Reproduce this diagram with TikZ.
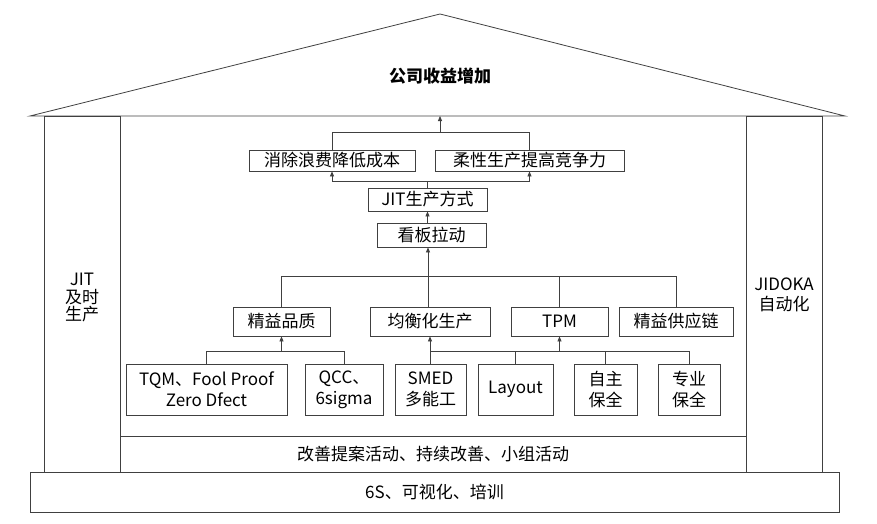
\documentclass[tikz,border=0pt]{standalone}
\usepackage{fontspec}
\setmainfont{Noto Sans CJK SC}
\usetikzlibrary{arrows.meta}
\begin{document}
\begin{tikzpicture}[x=1pt,y=-1pt,
  ln/.style={draw=black!75,line width=0.8pt},
  box/.style={ln,rectangle,inner sep=0pt,align=center,font=\fontsize{17}{21}\selectfont},
  arr/.style={ln,-{Triangle[length=5pt,width=4pt]}},
  lbl/.style={inner sep=0pt,align=center,font=\fontsize{17}{19}\selectfont}]
\useasboundingbox (0,0) rectangle (877,524);
% roof
\draw[ln] (30,116) -- (440,14) -- (845,116) -- cycle;
\node[lbl,font=\fontsize{17}{19}\selectfont\bfseries] (title) at (440,76) {公司收益增加};
\coordinate (top) at (440,116);
% pillars, bars
\node[box,minimum width=76pt,minimum height=356pt] (lp) at (82,294) {};
\node[lbl,font=\fontsize{17}{17.5}\selectfont] (lpt) at (82,298) {JIT\\及时\\生产};
\node[box,minimum width=76pt,minimum height=356pt] (rp) at (784,294) {};
\node[lbl,font=\fontsize{17}{20}\selectfont] (rpt) at (784,294.5) {JIDOKA\\自动化};
\node[box,minimum width=626pt,minimum height=36pt] (kz) at (433,454) {改善提案活动、持续改善、小组活动};
\node[box,minimum width=809pt,minimum height=40pt] (base) at (434.5,492) {6S、可视化、培训};
% goal boxes
\node[box,minimum width=166pt,minimum height=21pt] (x1) at (332,160.5) {消除浪费降低成本};
\node[box,minimum width=189pt,minimum height=21pt] (x2) at (529.5,160.5) {柔性生产提高竞争力};
\node[box,minimum width=119pt,minimum height=23pt] (jit) at (427.5,199.5) {JIT生产方式};
\node[box,minimum width=109pt,minimum height=24pt] (kb) at (431.5,235) {看板拉动};
% middle row
\node[box,minimum width=97pt,minimum height=29pt] (q) at (281.5,321.5) {精益品质};
\node[box,minimum width=120pt,minimum height=29pt] (b) at (430,321.5) {均衡化生产};
\node[box,minimum width=97pt,minimum height=29pt] (tpm) at (559.5,321.5) {TPM};
\node[box,minimum width=114pt,minimum height=29pt] (sc) at (676,321.5) {精益供应链};
% bottom row
\node[box,minimum width=161pt,minimum height=51pt] (tqm) at (206.5,389.5) {TQM、Fool Proof\\Zero Dfect};
\node[box,minimum width=78pt,minimum height=51pt] (qcc) at (344,389.5) {QCC、\\6sigma};
\node[box,minimum width=71pt,minimum height=51pt] (smed) at (430.5,389.5) {SMED\\多能工};
\node[box,minimum width=75pt,minimum height=51pt] (lay) at (515.5,389.5) {Layout};
\node[box,minimum width=63pt,minimum height=51pt] (zz) at (605.5,389.5) {自主\\保全};
\node[box,minimum width=62pt,minimum height=51pt] (zy) at (689,389.5) {专业\\保全};
% connectors top
\coordinate (h1) at (440,132);
\draw[ln] (x1.north) |- (x2.north |- h1) -- (x2.north);
\draw[arr] (h1) -- (top);
\coordinate (h2) at (427.5,181);
\draw[ln] (jit.north) -- (h2);
\draw[arr] (h2) -| (x1.south);
\draw[arr] (h2) -| (x2.south);
\draw[arr] (jit.south |- kb.north) -- (jit.south);
% middle connectors
\coordinate (h3) at (428,276);
\draw[ln] (q.north) |- (sc.north |- h3) -- (sc.north);
\draw[ln] (tpm.north) -- (tpm.north |- h3);
\draw[ln] (h3 |- b.north) -- (h3);
\draw[arr] (h3) -- (h3 |- kb.south);
% bottom connectors
\coordinate (h4) at (281.5,351);
\draw[ln] (tqm.north) |- (qcc.north |- h4) -- (qcc.north);
\draw[arr] (h4) -- (q.south);
\coordinate (h5) at (430,351);
\draw[ln] (smed.north) |- (zy.north |- h5) -- (zy.north);
\draw[ln] (lay.north) -- (lay.north |- h5);
\draw[ln] (zz.north) -- (zz.north |- h5);
\draw[arr] (h5) -- (b.south);
\draw[arr] (tpm.south |- h5) -- (tpm.south);
\end{tikzpicture}
\end{document}
